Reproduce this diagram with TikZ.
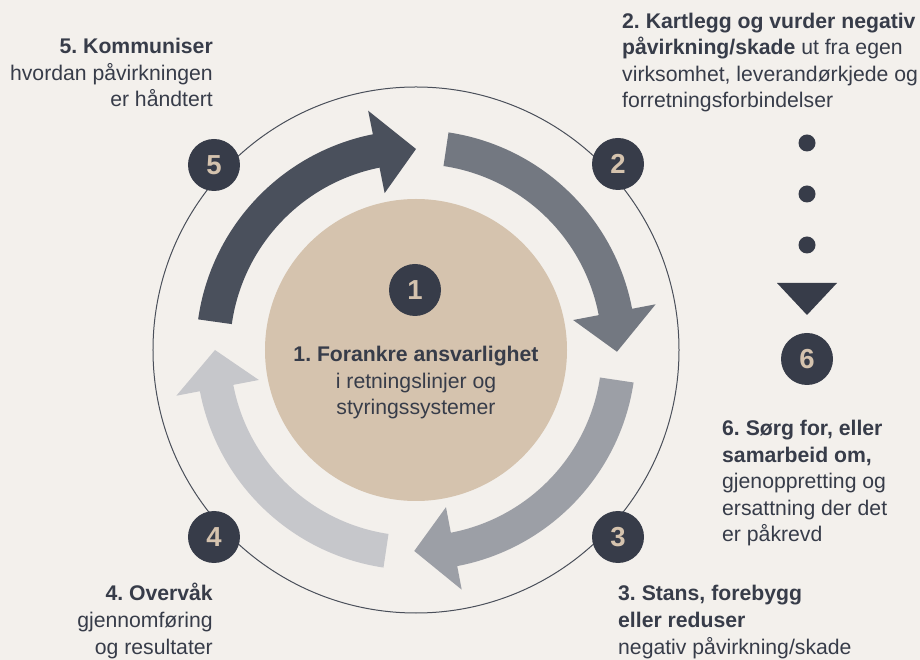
\documentclass[tikz,border=0pt]{standalone}
\usepackage{fontspec}
\setmainfont{Liberation Sans}
\frenchspacing
\definecolor{bg}{HTML}{F3F0EC}
\definecolor{ink}{HTML}{373C49}
\definecolor{beige}{HTML}{D5C3AE}
\definecolor{arrA}{HTML}{4A505C}
\definecolor{arrB}{HTML}{737881}
\definecolor{arrC}{HTML}{9C9FA6}
\definecolor{arrD}{HTML}{C6C7CB}
\definecolor{ring}{HTML}{4A4F5A}
\tikzset{
  badge/.style={circle, fill=ink, minimum size=52pt, inner sep=0pt, text=beige, font=\fontsize{27.5}{30}\selectfont\bfseries},
  txt/.style={inner sep=0pt, text=ink, font=\fontsize{21.2}{26.6}\selectfont},
  dotm/.style={circle, fill=ink, minimum size=17pt, inner sep=0pt},
}
% arrow: tail angle #1, head base angle #2, tip angle #3
\newcommand{\curvedarrow}[4]{%
  \fill[#4] (#1:186) arc[start angle=#1, end angle=#2, radius=186]
    -- (#2:160) -- (#3:201) -- (#2:244) -- (#2:220)
    arc[start angle=#2, end angle=#1, radius=220] -- cycle;}
\begin{document}
\begin{tikzpicture}[x=1pt,y=1pt]
\useasboundingbox (-416,-310) rectangle (504,350);
\fill[bg] (-416,-310) rectangle (504,350);
% outer ring
\draw[ring, line width=1pt] (0,0) circle[radius=263];
% centre circle
\node[circle, fill=beige, minimum size=302pt, inner sep=0pt] (centre) at (0,0) {};
% arrows
\curvedarrow{172}{101.3}{90}{arrA}
\curvedarrow{81.5}{10.8}{-0.5}{arrB}
\curvedarrow{-8.5}{-79.2}{-90.5}{arrC}
\curvedarrow{-98.5}{-169.2}{-180}{arrD}
% badges
\node[badge] (b1) at (-1,60) {1};
\node[badge] (b5) at (-202,185) {5};
\node[badge] (b2) at (202,186) {2};
\node[badge] (b3) at (202,-187) {3};
\node[badge] (b4) at (-202,-187) {4};
\node[badge] (b6) at (391,-9) {6};
% dots and triangle
\node[dotm] (d1) at (391,207) {};
\node[dotm] (d2) at (391,156) {};
\node[dotm] (d3) at (391,105) {};
\fill[ink] (361,67) -- (421,67) -- (391,35) -- cycle;
% texts (base anchor = baseline of last line)
\node[txt, align=center, anchor=base] (t1) at (0,-65)
  {\textbf{1. Forankre ansvarlighet}\\i retningslinjer og\\styringssystemer};
\node[txt, align=right, anchor=base east] (t5) at (-203,243)
  {\textbf{5. Kommuniser}\\hvordan påvirkningen\\er håndtert};
\node[txt, align=left, anchor=base west] (t2) at (206,242)
  {\textbf{2. Kartlegg og vurder negativ}\\\textbf{påvirkning/skade} ut fra egen\\virksomhet, leverandørkjede og\\forretningsforbindelser};
\node[txt, align=left, anchor=base west] (t6) at (306,-192)
  {\textbf{6. Sørg for, eller}\\\textbf{samarbeid om,}\\gjenoppretting og\\ersattning der det\\er påkrevd};
\node[txt, align=left, anchor=base west] (t3) at (202,-304)
  {\textbf{3. Stans, forebygg}\\\textbf{eller reduser}\\negativ påvirkning/skade};
\node[txt, align=right, anchor=base east] (t4) at (-203,-304)
  {\textbf{4. Overvåk}\\gjennomføring\\og resultater};
\end{tikzpicture}
\end{document}
